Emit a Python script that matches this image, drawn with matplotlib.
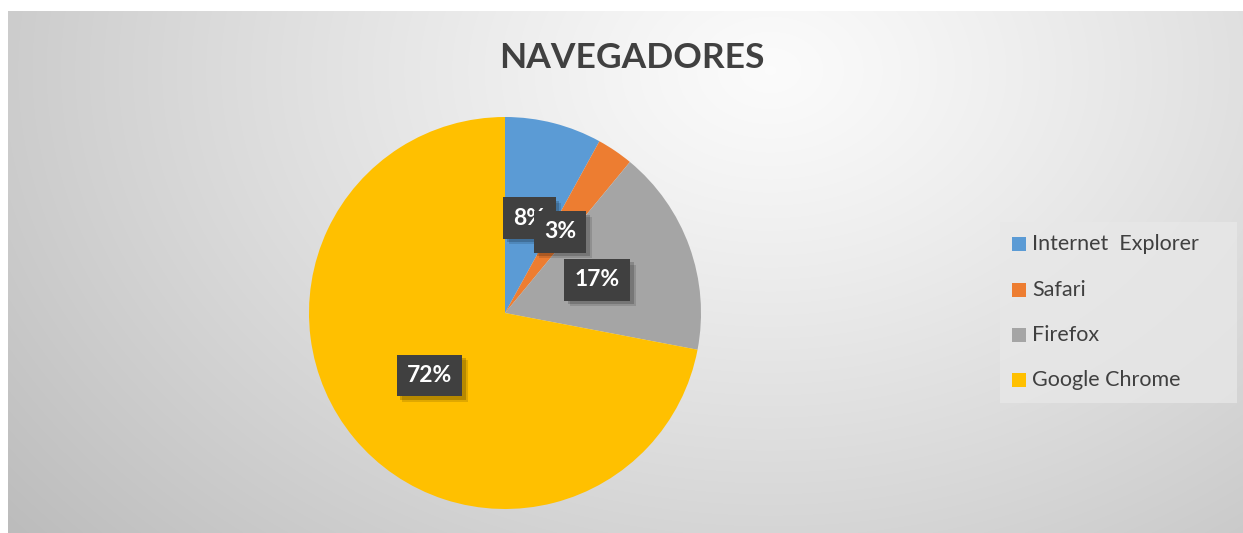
import numpy as np
import matplotlib
matplotlib.use("Agg")
import matplotlib.pyplot as plt
from matplotlib import patheffects as pe
from matplotlib.patches import Rectangle

# ---- data ----
browsers = ["Internet  Explorer", "Safari", "Firefox", "Google Chrome"]
shares = [8, 3, 17, 72]
colors = ["#5B9BD5", "#ED7D31", "#A5A5A5", "#FFC000"]
title = "NAVEGADORES"

W, H = 1243, 533
DPI = 100
plt.rcParams['font.family'] = ['Lato', 'DejaVu Sans']
fig = plt.figure(figsize=(W / DPI, H / DPI), dpi=DPI, facecolor="white")

# ---- background gradient (chart area) ----
bx0, by0, bx1, by1 = 8, 11, 1243, 533  # pixel coordinates from top-left
bg_ax = fig.add_axes([bx0 / W, 1 - by1 / H, (bx1 - bx0) / W, (by1 - by0) / H])
bg_ax.set_axis_off()
xs = np.arange(bx0, bx1)
ys = np.arange(by0, by1)
X, Y = np.meshgrid(xs, ys)
cx, cy = 770, 70
d = np.sqrt(((X - cx) / 820.0) ** 2 + ((Y - cy) / 600.0) ** 2)
v = 0.985 - 0.20 * np.clip(d, 0, 1.3) ** 1.15
img = np.dstack([v, v, v])
bg_ax.imshow(img, aspect="auto", extent=[0, 1, 0, 1], interpolation="bilinear")
bg_ax.set_xlim(0, 1)
bg_ax.set_ylim(0, 1)

# ---- title ----
fig.text(632 / W, 1 - 58 / H, title, ha="center", va="center",
         fontsize=25.5, fontweight="bold", color="#404040")

# ---- pie ----
pcx, pcy, r = 505, 313, 196
pie_ax = fig.add_axes([(pcx - r) / W, 1 - (pcy + r) / H, 2 * r / W, 2 * r / H])
wedges, texts, autotexts = pie_ax.pie(
    shares, colors=colors, startangle=90, counterclock=False,
    autopct="%1.0f%%", pctdistance=0.5, radius=1.0,
    wedgeprops=dict(linewidth=0),
    textprops=dict(color="white", fontsize=16.5, fontweight="bold"))
pie_ax.set_xlim(-1, 1)
pie_ax.set_ylim(-1, 1)
pie_ax.set_aspect("equal")
pie_ax.set_axis_off()

for i, t in enumerate(autotexts):
    t.set_bbox(dict(boxstyle="square,pad=0.45", facecolor="#404040",
                    edgecolor="none"))
    t.get_bbox_patch().set_path_effects(
        [pe.SimplePatchShadow(offset=(4, -4), alpha=0.12, shadow_rgbFace="black"),
         pe.SimplePatchShadow(offset=(2.5, -2.5), alpha=0.18, shadow_rgbFace="black"),
         pe.Normal()])
    t.set_zorder(5 + i)

# ---- legend ----
leg_ax = fig.add_axes([0, 0, 1, 1])
leg_ax.set_axis_off()
leg_ax.set_xlim(0, W)
leg_ax.set_ylim(H, 0)
leg_ax.add_patch(Rectangle((1000, 222), 237, 181, facecolor="#e8e8e8",
                           edgecolor="none", alpha=0.75))
ys_leg = [244, 290, 335, 380]
for name, col, yy in zip(browsers, colors, ys_leg):
    leg_ax.add_patch(Rectangle((1012, yy - 7), 14, 14, facecolor=col,
                               edgecolor="none"))
    leg_ax.text(1032, yy, name, ha="left", va="center", fontsize=15.5,
                color="#404040")

fig.savefig("out.png", dpi=DPI, facecolor="white")
